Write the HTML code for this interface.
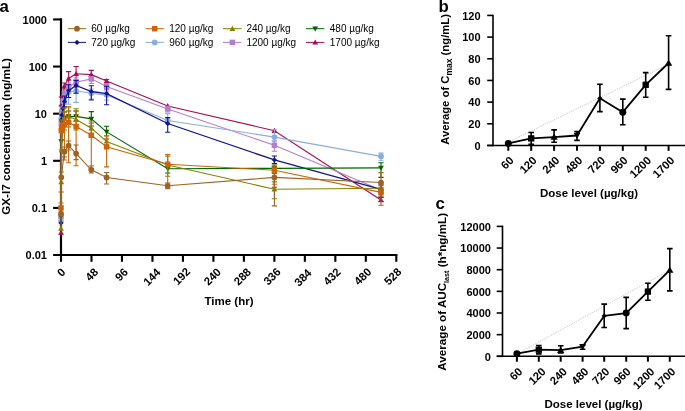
<!DOCTYPE html>
<html><head><meta charset="utf-8"><style>
html,body{margin:0;padding:0;background:#fff;}
svg{display:block;}
text{ }
text{font-family:"Liberation Sans", sans-serif;fill:#000;}
.tk{font-size:11px;font-weight:bold;}
.tr{font-size:11.3px;font-weight:bold;}
.tt{font-size:11.5px;font-weight:bold;}
.pl{font-size:16.8px;font-weight:bold;}
.lg{font-size:10px;}
</style></head><body>
<svg style="will-change:transform" width="685" height="411" viewBox="0 0 685 411">
<rect width="685" height="411" fill="#fff"/>
<line x1="61.0" y1="18.3" x2="61.0" y2="256.1" stroke="#000" stroke-width="2.2"/>
<line x1="53.1" y1="255.04" x2="397.4" y2="255.04" stroke="#000" stroke-width="2.1"/>
<line x1="53.1" y1="19.44" x2="61.0" y2="19.44" stroke="#000" stroke-width="2.1"/>
<line x1="53.1" y1="66.56" x2="61.0" y2="66.56" stroke="#000" stroke-width="2.1"/>
<line x1="53.1" y1="113.68" x2="61.0" y2="113.68" stroke="#000" stroke-width="2.1"/>
<line x1="53.1" y1="160.80" x2="61.0" y2="160.80" stroke="#000" stroke-width="2.1"/>
<line x1="53.1" y1="207.92" x2="61.0" y2="207.92" stroke="#000" stroke-width="2.1"/>
<text x="47" y="23.74" text-anchor="end" class="tk">1000</text>
<text x="47" y="70.86" text-anchor="end" class="tk">100</text>
<text x="47" y="117.98" text-anchor="end" class="tk">10</text>
<text x="47" y="165.10" text-anchor="end" class="tk">1</text>
<text x="47" y="212.22" text-anchor="end" class="tk">0.1</text>
<text x="47" y="259.34" text-anchor="end" class="tk">0.01</text>
<line x1="61.00" y1="255.04" x2="61.00" y2="261.8" stroke="#000" stroke-width="2.1"/>
<line x1="91.48" y1="255.04" x2="91.48" y2="261.8" stroke="#000" stroke-width="2.1"/>
<line x1="121.96" y1="255.04" x2="121.96" y2="261.8" stroke="#000" stroke-width="2.1"/>
<line x1="152.45" y1="255.04" x2="152.45" y2="261.8" stroke="#000" stroke-width="2.1"/>
<line x1="182.93" y1="255.04" x2="182.93" y2="261.8" stroke="#000" stroke-width="2.1"/>
<line x1="213.41" y1="255.04" x2="213.41" y2="261.8" stroke="#000" stroke-width="2.1"/>
<line x1="243.89" y1="255.04" x2="243.89" y2="261.8" stroke="#000" stroke-width="2.1"/>
<line x1="274.37" y1="255.04" x2="274.37" y2="261.8" stroke="#000" stroke-width="2.1"/>
<line x1="304.85" y1="255.04" x2="304.85" y2="261.8" stroke="#000" stroke-width="2.1"/>
<line x1="335.34" y1="255.04" x2="335.34" y2="261.8" stroke="#000" stroke-width="2.1"/>
<line x1="365.82" y1="255.04" x2="365.82" y2="261.8" stroke="#000" stroke-width="2.1"/>
<line x1="396.30" y1="255.04" x2="396.30" y2="261.8" stroke="#000" stroke-width="2.1"/>
<text transform="translate(66.20,272.80) rotate(-45)" text-anchor="end" class="tr">0</text>
<text transform="translate(98.90,272.80) rotate(-45)" text-anchor="end" class="tr">48</text>
<text transform="translate(128.70,272.80) rotate(-45)" text-anchor="end" class="tr">96</text>
<text transform="translate(161.30,273.10) rotate(-45)" text-anchor="end" class="tr">144</text>
<text transform="translate(191.00,272.30) rotate(-45)" text-anchor="end" class="tr">192</text>
<text transform="translate(221.80,272.70) rotate(-45)" text-anchor="end" class="tr">240</text>
<text transform="translate(251.80,272.70) rotate(-45)" text-anchor="end" class="tr">288</text>
<text transform="translate(281.50,272.50) rotate(-45)" text-anchor="end" class="tr">336</text>
<text transform="translate(312.30,273.70) rotate(-45)" text-anchor="end" class="tr">384</text>
<text transform="translate(341.40,272.70) rotate(-45)" text-anchor="end" class="tr">432</text>
<text transform="translate(372.10,272.50) rotate(-45)" text-anchor="end" class="tr">480</text>
<text transform="translate(402.10,272.50) rotate(-45)" text-anchor="end" class="tr">528</text>
<text x="229" y="304.6" text-anchor="middle" class="tt">Time (hr)</text>
<text transform="translate(10,136.4) rotate(-90)" text-anchor="middle" class="tt" style="font-size:11.67px">GX-I7 concentration (ng/mL)</text>
<text x="-0.6" y="11.5" class="pl">a</text>
<g><path d="M61.80,83.00H67.00M64.40,83.00V89.00M61.80,89.00H67.00" stroke="#aa0e55" stroke-width="1.1" fill="none"/>
<path d="M66.00,71.60H71.20M68.60,71.60V85.00M66.00,85.00H71.20" stroke="#aa0e55" stroke-width="1.1" fill="none"/>
<path d="M73.50,66.50H78.70M76.10,66.50V80.00M73.50,80.00H78.70" stroke="#aa0e55" stroke-width="1.1" fill="none"/>
<path d="M88.70,70.40H93.90M91.30,70.40V79.00M88.70,79.00H93.90" stroke="#aa0e55" stroke-width="1.1" fill="none"/>
<path d="M104.00,79.50H109.20M106.60,79.50V83.00M104.00,83.00H109.20" stroke="#aa0e55" stroke-width="1.1" fill="none"/>
<path d="M378.40,197.50H383.60M381.00,197.50V201.50M378.40,201.50H383.60" stroke="#aa0e55" stroke-width="1.1" fill="none"/>
<path d="M58.70,97.00H63.90M61.30,97.00V106.00M58.70,106.00H63.90" stroke="#aa0e55" stroke-width="1.1" fill="none"/>
<polyline points="61.00,232.80 61.30,111.00 61.70,104.00 63.00,95.00 64.40,86.00 68.60,78.50 76.10,73.80 91.30,74.60 106.60,81.00 167.70,106.00 274.40,130.70 381.00,200.00" fill="none" stroke="#aa0e55" stroke-width="1.15"/>
<polygon points="61.00,229.90 63.90,234.98 58.10,234.98" fill="#aa0e55"/>
<polygon points="61.30,108.10 64.20,113.17 58.40,113.17" fill="#aa0e55"/>
<polygon points="61.70,101.10 64.60,106.17 58.80,106.17" fill="#aa0e55"/>
<polygon points="63.00,92.10 65.90,97.17 60.10,97.17" fill="#aa0e55"/>
<polygon points="64.40,83.10 67.30,88.17 61.50,88.17" fill="#aa0e55"/>
<polygon points="68.60,75.60 71.50,80.67 65.70,80.67" fill="#aa0e55"/>
<polygon points="76.10,70.90 79.00,75.97 73.20,75.97" fill="#aa0e55"/>
<polygon points="91.30,71.70 94.20,76.77 88.40,76.77" fill="#aa0e55"/>
<polygon points="106.60,78.10 109.50,83.17 103.70,83.17" fill="#aa0e55"/>
<polygon points="167.70,103.10 170.60,108.17 164.80,108.17" fill="#aa0e55"/>
<polygon points="274.40,127.80 277.30,132.88 271.50,132.88" fill="#aa0e55"/>
<polygon points="381.00,197.10 383.90,202.18 378.10,202.18" fill="#aa0e55"/>
<path d="M73.50,78.00H78.70M76.10,78.00V87.00M73.50,87.00H78.70" stroke="#b57ecb" stroke-width="1.1" fill="none"/>
<path d="M88.70,76.60H93.90M91.30,76.60V83.50M88.70,83.50H93.90" stroke="#b57ecb" stroke-width="1.1" fill="none"/>
<path d="M104.00,83.60H109.20M106.60,83.60V89.50M104.00,89.50H109.20" stroke="#b57ecb" stroke-width="1.1" fill="none"/>
<path d="M165.10,106.30H170.30M167.70,106.30V112.00M165.10,112.00H170.30" stroke="#b57ecb" stroke-width="1.1" fill="none"/>
<path d="M271.80,141.00H277.00M274.40,141.00V151.20M271.80,151.20H277.00" stroke="#b57ecb" stroke-width="1.1" fill="none"/>
<path d="M378.40,186.00H383.60M381.00,186.00V194.00M378.40,194.00H383.60" stroke="#b57ecb" stroke-width="1.1" fill="none"/>
<path d="M66.00,83.00H71.20M68.60,83.00V92.00M66.00,92.00H71.20" stroke="#b57ecb" stroke-width="1.1" fill="none"/>
<path d="M61.80,90.00H67.00M64.40,90.00V99.00M61.80,99.00H67.00" stroke="#b57ecb" stroke-width="1.1" fill="none"/>
<polyline points="61.00,216.40 61.30,123.50 61.70,112.00 63.00,101.00 64.40,93.50 68.60,87.20 76.10,82.30 91.30,78.90 106.60,86.50 167.70,108.90 274.40,145.30 381.00,190.00" fill="none" stroke="#b57ecb" stroke-width="1.05"/>
<rect x="58.25" y="213.65" width="5.50" height="5.50" fill="#b57ecb"/>
<rect x="58.55" y="120.75" width="5.50" height="5.50" fill="#b57ecb"/>
<rect x="58.95" y="109.25" width="5.50" height="5.50" fill="#b57ecb"/>
<rect x="60.25" y="98.25" width="5.50" height="5.50" fill="#b57ecb"/>
<rect x="61.65" y="90.75" width="5.50" height="5.50" fill="#b57ecb"/>
<rect x="65.85" y="84.45" width="5.50" height="5.50" fill="#b57ecb"/>
<rect x="73.35" y="79.55" width="5.50" height="5.50" fill="#b57ecb"/>
<rect x="88.55" y="76.15" width="5.50" height="5.50" fill="#b57ecb"/>
<rect x="103.85" y="83.75" width="5.50" height="5.50" fill="#b57ecb"/>
<rect x="164.95" y="106.15" width="5.50" height="5.50" fill="#b57ecb"/>
<rect x="271.65" y="142.55" width="5.50" height="5.50" fill="#b57ecb"/>
<rect x="378.25" y="187.25" width="5.50" height="5.50" fill="#b57ecb"/>
<path d="M66.00,86.00H71.20M68.60,86.00V104.20M66.00,104.20H71.20" stroke="#8aaedc" stroke-width="1.1" fill="none"/>
<path d="M73.50,87.20H78.70M76.10,87.20V102.40M73.50,102.40H78.70" stroke="#8aaedc" stroke-width="1.1" fill="none"/>
<path d="M88.70,89.00H93.90M91.30,89.00V99.00M88.70,99.00H93.90" stroke="#8aaedc" stroke-width="1.1" fill="none"/>
<path d="M104.00,91.00H109.20M106.60,91.00V100.00M104.00,100.00H109.20" stroke="#8aaedc" stroke-width="1.1" fill="none"/>
<path d="M165.10,113.60H170.30M167.70,113.60V124.00M165.10,124.00H170.30" stroke="#8aaedc" stroke-width="1.1" fill="none"/>
<path d="M271.80,129.80H277.00M274.40,129.80V141.00M271.80,141.00H277.00" stroke="#8aaedc" stroke-width="1.1" fill="none"/>
<path d="M378.40,153.10H383.60M381.00,153.10V160.70M378.40,160.70H383.60" stroke="#8aaedc" stroke-width="1.1" fill="none"/>
<path d="M61.80,95.00H67.00M64.40,95.00V107.00M61.80,107.00H67.00" stroke="#8aaedc" stroke-width="1.1" fill="none"/>
<polyline points="61.00,221.00 61.30,118.00 61.70,114.50 63.00,108.00 64.40,102.00 68.60,92.00 76.10,90.80 91.30,93.30 106.60,95.10 167.70,120.50 274.40,137.10 381.00,156.40" fill="none" stroke="#8aaedc" stroke-width="1.1"/>
<circle cx="61.00" cy="221.00" r="2.85" fill="#8aaedc"/>
<circle cx="61.30" cy="118.00" r="2.85" fill="#8aaedc"/>
<circle cx="61.70" cy="114.50" r="2.85" fill="#8aaedc"/>
<circle cx="63.00" cy="108.00" r="2.85" fill="#8aaedc"/>
<circle cx="64.40" cy="102.00" r="2.85" fill="#8aaedc"/>
<circle cx="68.60" cy="92.00" r="2.85" fill="#8aaedc"/>
<circle cx="76.10" cy="90.80" r="2.85" fill="#8aaedc"/>
<circle cx="91.30" cy="93.30" r="2.85" fill="#8aaedc"/>
<circle cx="106.60" cy="95.10" r="2.85" fill="#8aaedc"/>
<circle cx="167.70" cy="120.50" r="2.85" fill="#8aaedc"/>
<circle cx="274.40" cy="137.10" r="2.85" fill="#8aaedc"/>
<circle cx="381.00" cy="156.40" r="2.85" fill="#8aaedc"/>
<path d="M66.00,84.80H71.20M68.60,84.80V97.50M66.00,97.50H71.20" stroke="#141490" stroke-width="1.1" fill="none"/>
<path d="M73.50,80.50H78.70M76.10,80.50V93.30M73.50,93.30H78.70" stroke="#141490" stroke-width="1.1" fill="none"/>
<path d="M88.70,85.70H93.90M91.30,85.70V100.00M88.70,100.00H93.90" stroke="#141490" stroke-width="1.1" fill="none"/>
<path d="M104.00,86.20H109.20M106.60,86.20V104.80M104.00,104.80H109.20" stroke="#141490" stroke-width="1.1" fill="none"/>
<path d="M165.10,117.60H170.30M167.70,117.60V132.20M165.10,132.20H170.30" stroke="#141490" stroke-width="1.1" fill="none"/>
<path d="M271.80,156.00H277.00M274.40,156.00V163.50M271.80,163.50H277.00" stroke="#141490" stroke-width="1.1" fill="none"/>
<path d="M378.40,185.00H383.60M381.00,185.00V197.00M378.40,197.00H383.60" stroke="#141490" stroke-width="1.1" fill="none"/>
<path d="M61.80,96.00H67.00M64.40,96.00V107.00M61.80,107.00H67.00" stroke="#141490" stroke-width="1.1" fill="none"/>
<polyline points="61.00,223.00 61.30,120.00 61.70,115.00 63.00,108.50 64.40,101.50 68.60,90.60 76.10,85.40 91.30,91.50 106.60,93.60 167.70,123.50 274.40,159.90 381.00,189.40" fill="none" stroke="#141490" stroke-width="1.3"/>
<polygon points="61.00,220.40 63.60,223.00 61.00,225.60 58.40,223.00" fill="#141490"/>
<polygon points="61.30,117.40 63.90,120.00 61.30,122.60 58.70,120.00" fill="#141490"/>
<polygon points="61.70,112.40 64.30,115.00 61.70,117.60 59.10,115.00" fill="#141490"/>
<polygon points="63.00,105.90 65.60,108.50 63.00,111.10 60.40,108.50" fill="#141490"/>
<polygon points="64.40,98.90 67.00,101.50 64.40,104.10 61.80,101.50" fill="#141490"/>
<polygon points="68.60,88.00 71.20,90.60 68.60,93.20 66.00,90.60" fill="#141490"/>
<polygon points="76.10,82.80 78.70,85.40 76.10,88.00 73.50,85.40" fill="#141490"/>
<polygon points="91.30,88.90 93.90,91.50 91.30,94.10 88.70,91.50" fill="#141490"/>
<polygon points="106.60,91.00 109.20,93.60 106.60,96.20 104.00,93.60" fill="#141490"/>
<polygon points="167.70,120.90 170.30,123.50 167.70,126.10 165.10,123.50" fill="#141490"/>
<polygon points="274.40,157.30 277.00,159.90 274.40,162.50 271.80,159.90" fill="#141490"/>
<polygon points="381.00,186.80 383.60,189.40 381.00,192.00 378.40,189.40" fill="#141490"/>
<path d="M73.50,111.00H78.70M76.10,111.00V121.00M73.50,121.00H78.70" stroke="#036403" stroke-width="1.1" fill="none"/>
<path d="M88.70,111.60H93.90M91.30,111.60V126.00M88.70,126.00H93.90" stroke="#036403" stroke-width="1.1" fill="none"/>
<path d="M104.00,126.30H109.20M106.60,126.30V139.00M104.00,139.00H109.20" stroke="#036403" stroke-width="1.1" fill="none"/>
<path d="M165.10,164.00H170.30M167.70,164.00V173.00M165.10,173.00H170.30" stroke="#036403" stroke-width="1.1" fill="none"/>
<path d="M271.80,165.00H277.00M274.40,165.00V187.30M271.80,187.30H277.00" stroke="#036403" stroke-width="1.1" fill="none"/>
<path d="M378.40,162.70H383.60M381.00,162.70V177.40M378.40,177.40H383.60" stroke="#036403" stroke-width="1.1" fill="none"/>
<path d="M66.00,111.00H71.20M68.60,111.00V122.00M66.00,122.00H71.20" stroke="#036403" stroke-width="1.1" fill="none"/>
<path d="M61.80,112.00H67.00M64.40,112.00V124.00M61.80,124.00H67.00" stroke="#036403" stroke-width="1.1" fill="none"/>
<polyline points="61.00,216.40 61.30,141.50 61.70,132.00 63.00,122.00 64.40,117.70 68.60,116.50 76.10,116.40 91.30,118.90 106.60,131.90 167.70,168.70 274.40,168.30 381.00,167.90" fill="none" stroke="#036403" stroke-width="1.15"/>
<polygon points="61.00,219.30 63.90,214.22 58.10,214.22" fill="#036403"/>
<polygon points="61.30,144.40 64.20,139.32 58.40,139.32" fill="#036403"/>
<polygon points="61.70,134.90 64.60,129.82 58.80,129.82" fill="#036403"/>
<polygon points="63.00,124.90 65.90,119.83 60.10,119.83" fill="#036403"/>
<polygon points="64.40,120.60 67.30,115.53 61.50,115.53" fill="#036403"/>
<polygon points="68.60,119.40 71.50,114.33 65.70,114.33" fill="#036403"/>
<polygon points="76.10,119.30 79.00,114.23 73.20,114.23" fill="#036403"/>
<polygon points="91.30,121.80 94.20,116.73 88.40,116.73" fill="#036403"/>
<polygon points="106.60,134.80 109.50,129.72 103.70,129.72" fill="#036403"/>
<polygon points="167.70,171.60 170.60,166.52 164.80,166.52" fill="#036403"/>
<polygon points="274.40,171.20 277.30,166.12 271.50,166.12" fill="#036403"/>
<polygon points="381.00,170.80 383.90,165.72 378.10,165.72" fill="#036403"/>
<path d="M58.70,172.00H63.90M61.30,172.00V192.00M58.70,192.00H63.90" stroke="#828200" stroke-width="1.1" fill="none"/>
<path d="M73.50,108.80H78.70M76.10,108.80V130.00M73.50,130.00H78.70" stroke="#828200" stroke-width="1.1" fill="none"/>
<path d="M88.70,121.00H93.90M91.30,121.00V136.00M88.70,136.00H93.90" stroke="#828200" stroke-width="1.1" fill="none"/>
<path d="M104.00,136.00H109.20M106.60,136.00V146.20M104.00,146.20H109.20" stroke="#828200" stroke-width="1.1" fill="none"/>
<path d="M165.10,156.30H170.30M167.70,156.30V176.20M165.10,176.20H170.30" stroke="#828200" stroke-width="1.1" fill="none"/>
<path d="M271.80,181.90H277.00M274.40,181.90V198.80M271.80,198.80H277.00" stroke="#828200" stroke-width="1.1" fill="none"/>
<path d="M378.40,184.00H383.60M381.00,184.00V193.00M378.40,193.00H383.60" stroke="#828200" stroke-width="1.1" fill="none"/>
<path d="M66.00,107.00H71.20M68.60,107.00V127.00M66.00,127.00H71.20" stroke="#828200" stroke-width="1.1" fill="none"/>
<path d="M61.80,108.00H67.00M64.40,108.00V130.00M61.80,130.00H67.00" stroke="#828200" stroke-width="1.1" fill="none"/>
<polyline points="61.00,228.50 61.30,182.00 61.70,150.00 63.00,125.00 64.40,118.50 68.60,116.50 76.10,119.50 91.30,128.20 106.60,141.40 167.70,165.00 274.40,189.20 381.00,188.30" fill="none" stroke="#828200" stroke-width="1.1"/>
<polygon points="61.00,225.60 63.90,230.68 58.10,230.68" fill="#828200"/>
<polygon points="61.30,179.10 64.20,184.18 58.40,184.18" fill="#828200"/>
<polygon points="61.70,147.10 64.60,152.18 58.80,152.18" fill="#828200"/>
<polygon points="63.00,122.10 65.90,127.17 60.10,127.17" fill="#828200"/>
<polygon points="64.40,115.60 67.30,120.67 61.50,120.67" fill="#828200"/>
<polygon points="68.60,113.60 71.50,118.67 65.70,118.67" fill="#828200"/>
<polygon points="76.10,116.60 79.00,121.67 73.20,121.67" fill="#828200"/>
<polygon points="91.30,125.30 94.20,130.38 88.40,130.38" fill="#828200"/>
<polygon points="106.60,138.50 109.50,143.58 103.70,143.58" fill="#828200"/>
<polygon points="167.70,162.10 170.60,167.18 164.80,167.18" fill="#828200"/>
<polygon points="274.40,186.30 277.30,191.38 271.50,191.38" fill="#828200"/>
<polygon points="381.00,185.40 383.90,190.48 378.10,190.48" fill="#828200"/>
<path d="M58.40,203.00H63.60M61.00,203.00V212.00M58.40,212.00H63.60" stroke="#cc640a" stroke-width="1.1" fill="none"/>
<path d="M66.00,106.80H71.20M68.60,106.80V162.80M66.00,162.80H71.20" stroke="#cc640a" stroke-width="1.1" fill="none"/>
<path d="M73.50,111.00H78.70M76.10,111.00V165.70M73.50,165.70H78.70" stroke="#cc640a" stroke-width="1.1" fill="none"/>
<path d="M88.70,123.10H93.90M91.30,123.10V168.60M88.70,168.60H93.90" stroke="#cc640a" stroke-width="1.1" fill="none"/>
<path d="M104.00,135.80H109.20M106.60,135.80V166.90M104.00,166.90H109.20" stroke="#cc640a" stroke-width="1.1" fill="none"/>
<path d="M165.10,154.60H170.30M167.70,154.60V188.00M165.10,188.00H170.30" stroke="#cc640a" stroke-width="1.1" fill="none"/>
<path d="M271.80,166.30H277.00M274.40,166.30V184.30M271.80,184.30H277.00" stroke="#cc640a" stroke-width="1.1" fill="none"/>
<path d="M378.40,188.00H383.60M381.00,188.00V196.00M378.40,196.00H383.60" stroke="#cc640a" stroke-width="1.1" fill="none"/>
<path d="M61.80,112.00H67.00M64.40,112.00V160.00M61.80,160.00H67.00" stroke="#cc640a" stroke-width="1.1" fill="none"/>
<path d="M58.70,120.00H63.90M61.30,120.00V150.00M58.70,150.00H63.90" stroke="#cc640a" stroke-width="1.1" fill="none"/>
<polyline points="61.00,207.90 61.30,130.50 61.70,128.00 63.00,126.00 64.40,124.50 68.60,122.30 76.10,126.50 91.30,135.30 106.60,146.80 167.70,164.30 274.40,170.20 381.00,192.40" fill="none" stroke="#cc640a" stroke-width="1.1"/>
<rect x="58.25" y="205.15" width="5.50" height="5.50" fill="#cc640a"/>
<rect x="58.55" y="127.75" width="5.50" height="5.50" fill="#cc640a"/>
<rect x="58.95" y="125.25" width="5.50" height="5.50" fill="#cc640a"/>
<rect x="60.25" y="123.25" width="5.50" height="5.50" fill="#cc640a"/>
<rect x="61.65" y="121.75" width="5.50" height="5.50" fill="#cc640a"/>
<rect x="65.85" y="119.55" width="5.50" height="5.50" fill="#cc640a"/>
<rect x="73.35" y="123.75" width="5.50" height="5.50" fill="#cc640a"/>
<rect x="88.55" y="132.55" width="5.50" height="5.50" fill="#cc640a"/>
<rect x="103.85" y="144.05" width="5.50" height="5.50" fill="#cc640a"/>
<rect x="164.95" y="161.55" width="5.50" height="5.50" fill="#cc640a"/>
<rect x="271.65" y="167.45" width="5.50" height="5.50" fill="#cc640a"/>
<rect x="378.25" y="189.65" width="5.50" height="5.50" fill="#cc640a"/>
<path d="M73.50,145.00H78.70M76.10,145.00V159.60M73.50,159.60H78.70" stroke="#9c6424" stroke-width="1.1" fill="none"/>
<path d="M104.00,172.50H109.20M106.60,172.50V184.00M104.00,184.00H109.20" stroke="#9c6424" stroke-width="1.1" fill="none"/>
<path d="M165.10,183.00H170.30M167.70,183.00V188.70M165.10,188.70H170.30" stroke="#9c6424" stroke-width="1.1" fill="none"/>
<path d="M271.80,173.50H277.00M274.40,173.50V205.90M271.80,205.90H277.00" stroke="#9c6424" stroke-width="1.1" fill="none"/>
<path d="M378.40,172.60H383.60M381.00,172.60V205.20M378.40,205.20H383.60" stroke="#9c6424" stroke-width="1.1" fill="none"/>
<path d="M66.00,141.00H71.20M68.60,141.00V150.00M66.00,150.00H71.20" stroke="#9c6424" stroke-width="1.1" fill="none"/>
<path d="M61.80,147.00H67.00M64.40,147.00V157.00M61.80,157.00H67.00" stroke="#9c6424" stroke-width="1.1" fill="none"/>
<path d="M88.70,166.00H93.90M91.30,166.00V173.00M88.70,173.00H93.90" stroke="#9c6424" stroke-width="1.1" fill="none"/>
<polyline points="61.00,213.80 61.30,177.30 64.40,151.70 68.60,145.60 76.10,153.60 91.30,169.80 106.60,177.40 167.70,185.80 274.40,177.40 381.00,182.60" fill="none" stroke="#9c6424" stroke-width="1.05"/>
<circle cx="61.00" cy="213.80" r="2.85" fill="#9c6424"/>
<circle cx="61.30" cy="177.30" r="2.85" fill="#9c6424"/>
<circle cx="64.40" cy="151.70" r="2.85" fill="#9c6424"/>
<circle cx="68.60" cy="145.60" r="2.85" fill="#9c6424"/>
<circle cx="76.10" cy="153.60" r="2.85" fill="#9c6424"/>
<circle cx="91.30" cy="169.80" r="2.85" fill="#9c6424"/>
<circle cx="106.60" cy="177.40" r="2.85" fill="#9c6424"/>
<circle cx="167.70" cy="185.80" r="2.85" fill="#9c6424"/>
<circle cx="274.40" cy="177.40" r="2.85" fill="#9c6424"/>
<circle cx="381.00" cy="182.60" r="2.85" fill="#9c6424"/></g>
<line x1="67.8" y1="28.7" x2="86.0" y2="28.7" stroke="#9c6424" stroke-width="1.0"/>
<circle cx="77.00" cy="28.70" r="2.85" fill="#9c6424"/>
<text x="91.3" y="32.10" class="lg">60 µg/kg</text>
<line x1="145.5" y1="28.7" x2="163.9" y2="28.7" stroke="#cc640a" stroke-width="1.0"/>
<rect x="151.95" y="25.95" width="5.50" height="5.50" fill="#cc640a"/>
<text x="169.2" y="32.10" class="lg">120 µg/kg</text>
<line x1="223.0" y1="28.7" x2="241.6" y2="28.7" stroke="#828200" stroke-width="1.0"/>
<polygon points="232.40,25.80 235.30,30.88 229.50,30.88" fill="#828200"/>
<text x="246.4" y="32.10" class="lg">240 µg/kg</text>
<line x1="306.0" y1="28.7" x2="324.4" y2="28.7" stroke="#036403" stroke-width="1.0"/>
<polygon points="315.20,31.60 318.10,26.52 312.30,26.52" fill="#036403"/>
<text x="329.8" y="32.10" class="lg">480 µg/kg</text>
<line x1="67.8" y1="42.4" x2="86.0" y2="42.4" stroke="#141490" stroke-width="1.0"/>
<polygon points="77.00,39.80 79.60,42.40 77.00,45.00 74.40,42.40" fill="#141490"/>
<text x="91.3" y="45.90" class="lg">720 µg/kg</text>
<line x1="145.5" y1="42.4" x2="163.9" y2="42.4" stroke="#8aaedc" stroke-width="1.0"/>
<circle cx="154.70" cy="42.40" r="2.85" fill="#8aaedc"/>
<text x="169.2" y="45.90" class="lg">960 µg/kg</text>
<line x1="223.0" y1="42.4" x2="241.6" y2="42.4" stroke="#b57ecb" stroke-width="1.0"/>
<rect x="229.65" y="39.65" width="5.50" height="5.50" fill="#b57ecb"/>
<text x="246.4" y="45.90" class="lg">1200 µg/kg</text>
<line x1="306.0" y1="42.4" x2="324.4" y2="42.4" stroke="#aa0e55" stroke-width="1.0"/>
<polygon points="315.20,39.50 318.10,44.57 312.30,44.57" fill="#aa0e55"/>
<text x="329.8" y="45.90" class="lg">1700 µg/kg</text>
<line x1="493.0" y1="14.63" x2="493.0" y2="146.25" stroke="#000" stroke-width="1.6"/>
<line x1="487.20" y1="145.45" x2="685" y2="145.45" stroke="#000" stroke-width="1.6"/>
<line x1="487.20" y1="145.45" x2="493.0" y2="145.45" stroke="#000" stroke-width="1.6"/>
<text x="480.6" y="149.75" text-anchor="end" class="tk">0</text>
<line x1="487.20" y1="123.78" x2="493.0" y2="123.78" stroke="#000" stroke-width="1.6"/>
<text x="480.6" y="128.08" text-anchor="end" class="tk">20</text>
<line x1="487.20" y1="102.11" x2="493.0" y2="102.11" stroke="#000" stroke-width="1.6"/>
<text x="480.6" y="106.41" text-anchor="end" class="tk">40</text>
<line x1="487.20" y1="80.44" x2="493.0" y2="80.44" stroke="#000" stroke-width="1.6"/>
<text x="480.6" y="84.74" text-anchor="end" class="tk">60</text>
<line x1="487.20" y1="58.77" x2="493.0" y2="58.77" stroke="#000" stroke-width="1.6"/>
<text x="480.6" y="63.07" text-anchor="end" class="tk">80</text>
<line x1="487.20" y1="37.10" x2="493.0" y2="37.10" stroke="#000" stroke-width="1.6"/>
<text x="480.6" y="41.40" text-anchor="end" class="tk">100</text>
<line x1="487.20" y1="15.43" x2="493.0" y2="15.43" stroke="#000" stroke-width="1.6"/>
<text x="480.6" y="19.73" text-anchor="end" class="tk">120</text>
<line x1="508.30" y1="145.45" x2="508.30" y2="150.8" stroke="#000" stroke-width="2.0"/>
<text transform="translate(514.40,161.00) rotate(-45)" text-anchor="end" class="tr">60</text>
<line x1="531.20" y1="145.45" x2="531.20" y2="150.8" stroke="#000" stroke-width="2.0"/>
<text transform="translate(537.50,161.00) rotate(-45)" text-anchor="end" class="tr">120</text>
<line x1="554.10" y1="145.45" x2="554.10" y2="150.8" stroke="#000" stroke-width="2.0"/>
<text transform="translate(560.30,161.00) rotate(-45)" text-anchor="end" class="tr">240</text>
<line x1="577.00" y1="145.45" x2="577.00" y2="150.8" stroke="#000" stroke-width="2.0"/>
<text transform="translate(583.20,161.00) rotate(-45)" text-anchor="end" class="tr">480</text>
<line x1="599.90" y1="145.45" x2="599.90" y2="150.8" stroke="#000" stroke-width="2.0"/>
<text transform="translate(605.90,161.00) rotate(-45)" text-anchor="end" class="tr">720</text>
<line x1="622.80" y1="145.45" x2="622.80" y2="150.8" stroke="#000" stroke-width="2.0"/>
<text transform="translate(628.50,161.00) rotate(-45)" text-anchor="end" class="tr">960</text>
<line x1="645.70" y1="145.45" x2="645.70" y2="150.8" stroke="#000" stroke-width="2.0"/>
<text transform="translate(652.00,161.00) rotate(-45)" text-anchor="end" class="tr">1200</text>
<line x1="668.60" y1="145.45" x2="668.60" y2="150.8" stroke="#000" stroke-width="2.0"/>
<text transform="translate(675.10,161.00) rotate(-45)" text-anchor="end" class="tr">1700</text>
<line x1="508.30" y1="142.1" x2="668.60" y2="64.2" stroke="#9a9a9a" stroke-width="0.75" stroke-dasharray="0.8,1.25"/>
<path d="M528.40,132.5H534.00M531.20,132.5V144.3M528.40,144.3H534.00" stroke="#000" stroke-width="1.6" fill="none"/>
<path d="M551.30,129.9H556.90M554.10,129.9V142.3M551.30,142.3H556.90" stroke="#000" stroke-width="1.6" fill="none"/>
<path d="M574.20,131.6H579.80M577.00,131.6V140.4M574.20,140.4H579.80" stroke="#000" stroke-width="1.6" fill="none"/>
<path d="M597.10,84.3H602.70M599.90,84.3V111.6M597.10,111.6H602.70" stroke="#000" stroke-width="1.6" fill="none"/>
<path d="M620.00,99.1H625.60M622.80,99.1V124.7M620.00,124.7H625.60" stroke="#000" stroke-width="1.6" fill="none"/>
<path d="M642.90,72.6H648.50M645.70,72.6V97.3M642.90,97.3H648.50" stroke="#000" stroke-width="1.6" fill="none"/>
<path d="M665.80,35.8H671.40M668.60,35.8V89.4M665.80,89.4H671.40" stroke="#000" stroke-width="1.6" fill="none"/>
<polyline points="508.30,143.4 531.20,138.4 554.10,137.1 577.00,135.5 599.90,98.3 622.80,112.2 645.70,84.8 668.60,63.0" fill="none" stroke="#000" stroke-width="1.8" stroke-linejoin="round"/>
<circle cx="508.30" cy="143.40" r="3.48" fill="#000"/>
<rect x="528.04" y="135.24" width="6.32" height="6.32" fill="#000"/>
<polygon points="554.10,133.47 557.73,139.82 550.48,139.82" fill="#000"/>
<polygon points="577.00,138.84 580.34,133.00 573.66,133.00" fill="#000"/>
<polygon points="599.90,95.70 602.50,98.30 599.90,100.90 597.30,98.30" fill="#000"/>
<circle cx="622.80" cy="112.20" r="3.48" fill="#000"/>
<rect x="642.54" y="81.64" width="6.32" height="6.32" fill="#000"/>
<polygon points="668.60,59.38 672.23,65.72 664.98,65.72" fill="#000"/>
<text x="540" y="196.9" class="tt">Dose level (µg/kg)</text>
<text transform="translate(448.8,79.4) rotate(-90)" text-anchor="middle" class="tt" style="font-size:11.3px">Average of C<tspan font-size="8.5" dy="3.0">max</tspan><tspan dy="-3.0"> (ng/mL)</tspan></text>
<text x="438.4" y="11.5" class="pl">b</text>
<line x1="502.5" y1="225.60" x2="502.5" y2="357.10" stroke="#000" stroke-width="1.6"/>
<line x1="496.70" y1="356.3" x2="685" y2="356.3" stroke="#000" stroke-width="1.6"/>
<line x1="496.70" y1="356.30" x2="502.5" y2="356.30" stroke="#000" stroke-width="1.6"/>
<text x="490.9" y="360.60" text-anchor="end" class="tk">0</text>
<line x1="496.70" y1="334.65" x2="502.5" y2="334.65" stroke="#000" stroke-width="1.6"/>
<text x="490.9" y="338.95" text-anchor="end" class="tk">2000</text>
<line x1="496.70" y1="313.00" x2="502.5" y2="313.00" stroke="#000" stroke-width="1.6"/>
<text x="490.9" y="317.30" text-anchor="end" class="tk">4000</text>
<line x1="496.70" y1="291.35" x2="502.5" y2="291.35" stroke="#000" stroke-width="1.6"/>
<text x="490.9" y="295.65" text-anchor="end" class="tk">6000</text>
<line x1="496.70" y1="269.70" x2="502.5" y2="269.70" stroke="#000" stroke-width="1.6"/>
<text x="490.9" y="274.00" text-anchor="end" class="tk">8000</text>
<line x1="496.70" y1="248.05" x2="502.5" y2="248.05" stroke="#000" stroke-width="1.6"/>
<text x="490.9" y="252.35" text-anchor="end" class="tk">10000</text>
<line x1="496.70" y1="226.40" x2="502.5" y2="226.40" stroke="#000" stroke-width="1.6"/>
<text x="490.9" y="230.70" text-anchor="end" class="tk">12000</text>
<line x1="516.90" y1="356.3" x2="516.90" y2="361.7" stroke="#000" stroke-width="2.0"/>
<text transform="translate(523.20,372.20) rotate(-45)" text-anchor="end" class="tr">60</text>
<line x1="538.80" y1="356.3" x2="538.80" y2="361.7" stroke="#000" stroke-width="2.0"/>
<text transform="translate(546.50,372.20) rotate(-45)" text-anchor="end" class="tr">120</text>
<line x1="560.70" y1="356.3" x2="560.70" y2="361.7" stroke="#000" stroke-width="2.0"/>
<text transform="translate(567.80,372.20) rotate(-45)" text-anchor="end" class="tr">240</text>
<line x1="582.60" y1="356.3" x2="582.60" y2="361.7" stroke="#000" stroke-width="2.0"/>
<text transform="translate(589.30,372.20) rotate(-45)" text-anchor="end" class="tr">480</text>
<line x1="604.20" y1="356.3" x2="604.20" y2="361.7" stroke="#000" stroke-width="2.0"/>
<text transform="translate(610.20,372.20) rotate(-45)" text-anchor="end" class="tr">720</text>
<line x1="626.20" y1="356.3" x2="626.20" y2="361.7" stroke="#000" stroke-width="2.0"/>
<text transform="translate(631.50,372.20) rotate(-45)" text-anchor="end" class="tr">960</text>
<line x1="647.90" y1="356.3" x2="647.90" y2="361.7" stroke="#000" stroke-width="2.0"/>
<text transform="translate(655.30,372.20) rotate(-45)" text-anchor="end" class="tr">1200</text>
<line x1="669.80" y1="356.3" x2="669.80" y2="361.7" stroke="#000" stroke-width="2.0"/>
<text transform="translate(676.20,372.20) rotate(-45)" text-anchor="end" class="tr">1700</text>
<line x1="516.90" y1="354.1" x2="669.80" y2="270.1" stroke="#9a9a9a" stroke-width="0.75" stroke-dasharray="0.8,1.25"/>
<path d="M536.00,345.5H541.60M538.80,345.5V353.9M536.00,353.9H541.60" stroke="#000" stroke-width="1.6" fill="none"/>
<path d="M557.90,345.8H563.50M560.70,345.8V353.0M557.90,353.0H563.50" stroke="#000" stroke-width="1.6" fill="none"/>
<path d="M579.80,345.5H585.40M582.60,345.5V349.3M579.80,349.3H585.40" stroke="#000" stroke-width="1.6" fill="none"/>
<path d="M601.40,304.1H607.00M604.20,304.1V327.5M601.40,327.5H607.00" stroke="#000" stroke-width="1.6" fill="none"/>
<path d="M623.40,297.4H629.00M626.20,297.4V328.6M623.40,328.6H629.00" stroke="#000" stroke-width="1.6" fill="none"/>
<path d="M645.10,283.3H650.70M647.90,283.3V300.2M645.10,300.2H650.70" stroke="#000" stroke-width="1.6" fill="none"/>
<path d="M667.00,248.6H672.60M669.80,248.6V290.9M667.00,290.9H672.60" stroke="#000" stroke-width="1.6" fill="none"/>
<polyline points="516.90,353.7 538.80,349.7 560.70,350.2 582.60,346.6 604.20,315.9 626.20,313.1 647.90,291.6 669.80,270.1" fill="none" stroke="#000" stroke-width="1.8" stroke-linejoin="round"/>
<circle cx="516.90" cy="353.70" r="3.48" fill="#000"/>
<rect x="535.64" y="346.54" width="6.32" height="6.32" fill="#000"/>
<polygon points="560.70,346.57 564.33,352.92 557.08,352.92" fill="#000"/>
<polygon points="582.60,349.94 585.94,344.10 579.26,344.10" fill="#000"/>
<polygon points="604.20,313.30 606.80,315.90 604.20,318.50 601.60,315.90" fill="#000"/>
<circle cx="626.20" cy="313.10" r="3.48" fill="#000"/>
<rect x="644.74" y="288.44" width="6.32" height="6.32" fill="#000"/>
<polygon points="669.80,266.48 673.42,272.82 666.17,272.82" fill="#000"/>
<text x="544.5" y="407.9" class="tt">Dose level (µg/kg)</text>
<text transform="translate(446.3,291.8) rotate(-90)" text-anchor="middle" class="tt" style="font-size:11.65px">Average of AUC<tspan font-size="7.2" dy="2.6">last</tspan><tspan dy="-2.6"> (h*ng/mL)</tspan></text>
<text x="435.6" y="209.3" class="pl">c</text>
</svg></body></html>
